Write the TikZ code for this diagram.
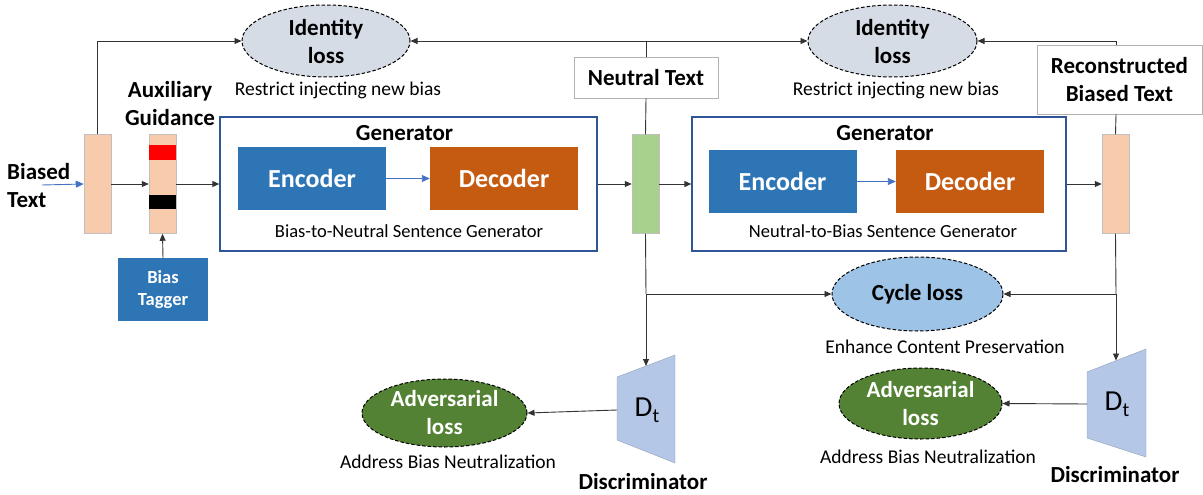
\documentclass[tikz,border=0pt]{standalone}
\usepackage{fontspec}
\setmainfont{Carlito}
\usetikzlibrary{shapes.geometric,arrows.meta}

\definecolor{peach}{HTML}{F8CBAD}
\definecolor{leaf}{HTML}{A9D18E}
\definecolor{encblue}{HTML}{2E75B6}
\definecolor{decorange}{HTML}{C55A11}
\definecolor{genblue}{HTML}{2F5597}
\definecolor{idgray}{HTML}{D6DCE5}
\definecolor{cycblue}{HTML}{9DC3E6}
\definecolor{advgreen}{HTML}{548235}
\definecolor{discblue}{HTML}{B4C7E7}
\definecolor{inblue}{HTML}{4472C4}

\tikzset{
  boldlabel/.style={font=\fontsize{23}{28}\selectfont\bfseries, align=center, inner sep=0pt},
  caption/.style={font=\fontsize{19.5}{23}\selectfont, inner sep=0pt},
  gencaption/.style={font=\fontsize{18.5}{22}\selectfont, inner sep=0pt},
  bar/.style={draw=black!25, line width=0.5pt, minimum width=27pt, minimum height=99pt, inner sep=0pt},
  block/.style={minimum width=148pt, minimum height=63pt, inner sep=0pt, text=white,
    font=\fontsize{26}{30}\selectfont\bfseries},
  genbox/.style={draw=genblue, line width=1.3pt, minimum height=134pt, inner sep=0pt},
  textbox/.style={draw=black!30, line width=0.8pt, fill=white, boldlabel},
  lossell/.style={ellipse, draw=black, dash pattern=on 3.5pt off 2pt, line width=1pt,
    inner sep=0pt, boldlabel},
  wire/.style={draw=black!80, line width=0.9pt},
  arr/.style={wire, -{Triangle[length=7pt,width=6pt]}},
  bluearr/.style={draw=inblue, line width=0.9pt, -{Triangle[length=8pt,width=7pt]}},
  disc/.style={fill=discblue, draw=discblue!80!black, line width=0.4pt}
}

\begin{document}
\begin{tikzpicture}[x=1pt,y=-1pt]
\useasboundingbox (0,0) rectangle (1203,495);

% input text and the two token bars of the first stage
\node[boldlabel, anchor=west, align=left] (biased) at (7,186) {Biased\\Text};
\coordinate (inpt) at (42,185);
\node[bar, fill=peach] (b1) at (97.5,184) {};
\node[bar, fill=peach] (b2) at (162.5,184) {};
\fill[red] (149,145) rectangle (176,160);
\fill[black] (149,195) rectangle (176,209);
\node[boldlabel] (aux) at (170,104) {Auxiliary\\Guidance};

% bias tagger
\node[block, fill=encblue, minimum width=90pt, font=\fontsize{18.5}{22}\selectfont\bfseries, align=center]
  (tagger) at (163,289.5) {Bias\\Tagger};

% first generator
\node[genbox, minimum width=377pt] (gen1) at (408.5,184) {};
\node[boldlabel] (gen1t) at (404.5,133) {Generator};
\node[block, fill=encblue] (enc1) at (312,178.5) {Encoder};
\node[block, fill=decorange] (dec1) at (504,178.5) {Decoder};
\node[gencaption] (gen1c) at (409,231) {Bias-to-Neutral Sentence Generator};

% neutral text bar and its label
\node[bar, fill=leaf] (b3) at (645.5,184) {};
\node[textbox, minimum width=144pt, minimum height=41pt] (nt) at (646,77.5) {Neutral Text};

% second generator
\node[genbox, minimum width=374pt] (gen2) at (879,184) {};
\node[boldlabel] (gen2t) at (885,133) {Generator};
\node[block, fill=encblue] (enc2) at (782.5,181.5) {Encoder};
\node[block, fill=decorange] (dec2) at (970,181.5) {Decoder};
\node[gencaption] (gen2c) at (883,231) {Neutral-to-Bias Sentence Generator};

% reconstructed text bar and its label
\node[bar, fill=peach] (b4) at (1115.5,184) {};
\node[textbox, minimum width=165pt, minimum height=69pt] (rec) at (1119.5,79.5) {Reconstructed\\Biased Text};

% loss terms
\node[lossell, fill=idgray, minimum width=168pt, minimum height=72pt] (id1) at (326,41) {Identity\\loss};
\node[caption] (id1c) at (338,90) {Restrict injecting new bias};
\node[lossell, fill=idgray, minimum width=169pt, minimum height=72pt] (id2) at (892.5,41) {Identity\\loss};
\node[caption] (id2c) at (896,90) {Restrict injecting new bias};
\node[lossell, fill=cycblue, minimum width=171pt, minimum height=74pt] (cyc) at (917.5,294) {Cycle loss};
\node[caption] (cycc) at (945,347) {Enhance Content Preservation};
\node[lossell, fill=advgreen, text=white, minimum width=165pt, minimum height=68pt] (adv1) at (444.5,413) {Adversarial\\loss};
\node[caption] (adv1c) at (448,462) {Address Bias Neutralization};
\node[lossell, fill=advgreen, text=white, minimum width=163pt, minimum height=71pt] (adv2) at (920.5,403.5) {Adversarial\\loss};
\node[caption] (adv2c) at (928,457) {Address Bias Neutralization};

% discriminators
\draw[disc] (617,377) -- (675,355) -- (675,463) -- (617,440) -- cycle;
\node[font=\fontsize{29}{30}\selectfont, inner sep=0pt] (d1) at (647,410)
  {D\raisebox{-6pt}{\fontsize{20}{20}\selectfont t}};
\coordinate (d1top) at (646,366);
\coordinate (d1left) at (617,410);
\node[boldlabel] (d1l) at (643,482) {Discriminator};
\draw[disc] (1087,372) -- (1146,349) -- (1146,457) -- (1087,438) -- cycle;
\node[font=\fontsize{29}{30}\selectfont, inner sep=0pt] (d2) at (1117,404)
  {D\raisebox{-6pt}{\fontsize{20}{20}\selectfont t}};
\coordinate (d2top) at (1116,360.5);
\coordinate (d2left) at (1087,404);
\node[boldlabel] (d2l) at (1115,475) {Discriminator};

% connectors
\draw[bluearr] (inpt) -- (b1.west);
\draw[arr] (b1.east) -- (b2.west);
\draw[arr] (b2.east) -- (gen1.west);
\draw[arr] (tagger.north) -- (b2.south);
\draw[bluearr] (enc1.east) -- (dec1.west);
\draw[bluearr] (enc2.east) -- (dec2.west);
\draw[arr] (gen1.east) -- (b3.west);
\draw[arr] (b3.east) -- (gen2.west);
\draw[arr] (gen2.east) -- (b4.west);

\draw[arr] (b1.north) |- (id1.west);
\coordinate (j1) at (646,41);
\draw[wire] (nt.north) -- (j1);
\draw[wire] (nt.south) -- (b3.north);
\draw[arr] (j1) -- (id1.east);
\draw[arr] (j1) -- (id2.west);

\coordinate (j3) at (1116,41);
\draw[wire] (rec.north -| j3) -- (j3);
\draw[wire] (rec.south -| j3) -- (b4.north);
\draw[arr] (j3) -- (id2.east);

\coordinate (j2) at (646,294);
\draw[wire] (b3.south) -- (j2);
\draw[arr] (j2) -- (cyc.west);
\draw[arr] (j2) -- (d1top);

\coordinate (j4) at (1116,294);
\draw[wire] (b4.south) -- (j4);
\draw[arr] (j4) -- (cyc.east);
\draw[arr] (j4) -- (d2top);

\draw[arr] (d1left) -- (adv1.east);
\draw[arr] (d2left) -- (adv2.east);
\end{tikzpicture}
\end{document}
